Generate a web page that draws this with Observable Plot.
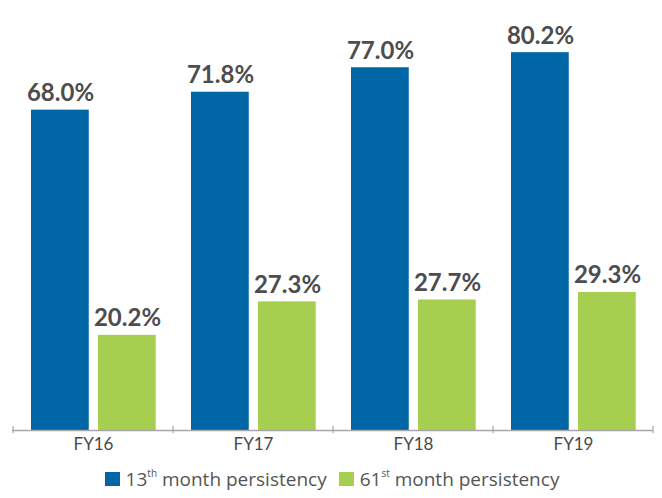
<!DOCTYPE html>
<html>
<head>
<meta charset="utf-8">
<script src="https://cdn.jsdelivr.net/npm/d3@7"></script>
<script src="https://cdn.jsdelivr.net/npm/@observablehq/plot@0.6"></script>
<style>
  body { margin: 0; background: #fff; font-family: Lato, "Open Sans", sans-serif; }
  #legend { display: flex; justify-content: center; align-items: center; margin-top: 13px; font-family: "Open Sans", sans-serif; font-size: 19px; color: #555; line-height: 22px; padding-left: 2px; }
  .item { display: flex; align-items: center; margin: 0 6px; }
  .sw { width: 15px; height: 14px; margin-right: 6px; }
  sup { font-size: 10px; position: relative; top: 0px; vertical-align: top; line-height: 10px; }
</style>
</head>
<body>
<div id="chart"></div>
<div id="legend">
  <div class="item"><div class="sw" style="background:#0066a6"></div><span>13<sup>th</sup> month persistency</span></div>
  <div class="item"><div class="sw" style="background:#a7cf4f"></div><span>61<sup>st</sup> month persistency</span></div>
</div>
<script>
const years = ["FY16", "FY17", "FY18", "FY19"];
const month13 = [68.0, 71.8, 77.0, 80.2];
const month61 = [20.2, 27.3, 27.7, 29.3];

const data = years.map((year, i) => ({year, m13: month13[i], m61: month61[i]}));
const BLUE = "#0066a6", GREEN = "#a7cf4f";

function boundaryTicks(...args) {
  const scales = args.find(a => a && typeof a.x === "function" && typeof a.y === "function");
  if (!scales) return null;
  const x = scales.x, y = scales.y;
  const bw = x.bandwidth ? x.bandwidth() : 0;
  const xs = years.map(d => x(d)).concat([x(years[years.length - 1]) + bw]);
  const y0 = y(0);
  const g = d3.create("svg:g").attr("stroke", "#a6a6a6").attr("stroke-width", 1.2);
  for (const px of xs) {
    g.append("line").attr("x1", px).attr("x2", px).attr("y1", y0 - 4).attr("y2", y0 + 3);
  }
  return g.node();
}

const chart = Plot.plot({
  width: 662,
  height: 455,
  marginLeft: 12,
  marginRight: 9,
  marginTop: 6,
  marginBottom: 25,
  style: {fontFamily: "Lato, 'Open Sans', sans-serif", fontSize: "17px", color: "#4a4a4a", background: "#fff"},
  x: {domain: years, padding: 0, tickSize: 0, tickPadding: 7, label: null},
  y: {domain: [0, 90], axis: null},
  marks: [
    Plot.barY(data, {x: "year", y: "m13", fill: BLUE, insetLeft: 18, insetRight: 84.25}),
    Plot.barY(data, {x: "year", y: "m61", fill: GREEN, insetLeft: 85, insetRight: 17.25}),
    Plot.ruleY([0], {stroke: "#a6a6a6", strokeWidth: 1.5}),
    boundaryTicks,
    Plot.text(data, {x: "year", y: "m13", text: d => d.m13.toFixed(1) + "%", dx: -33, dy: -9, lineAnchor: "bottom", fontSize: 24, fontWeight: "bold", fill: "#4d4d4d"}),
    Plot.text(data, {x: "year", y: "m61", text: d => d.m61.toFixed(1) + "%", dx: 34, dy: -9, lineAnchor: "bottom", fontSize: 24, fontWeight: "bold", fill: "#4d4d4d"})
  ]
});
document.getElementById("chart").appendChild(chart);
</script>
</body>
</html>
